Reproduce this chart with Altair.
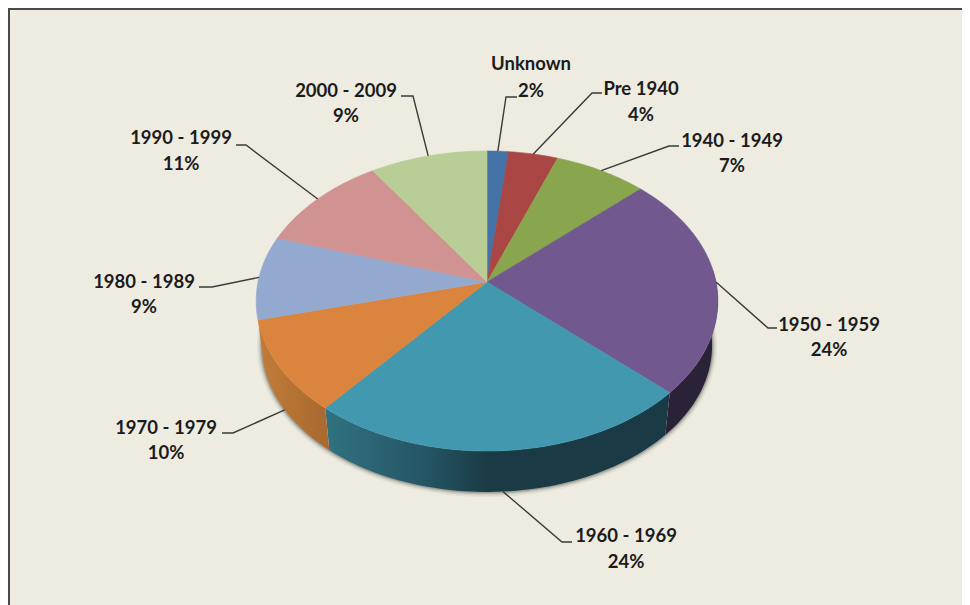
import math
import altair as alt

# ---- data ----
names = ["Unknown", "Pre 1940", "1940 - 1949", "1950 - 1959", "1960 - 1969",
         "1970 - 1979", "1980 - 1989", "1990 - 1999", "2000 - 2009"]
shares = [1.7, 3.9, 7.4, 24, 24, 10, 9, 10.7, 9.3]
top_colors = ["#4573a7", "#aa4643", "#89a54e", "#71588f", "#4198af",
              "#db843d", "#93a9cf", "#d19392", "#b9cd96"]

# ---- layout (page pixels) ----
PAGE = 8
W, H = 954, 597
CX, CY = 487, 282          # apex of the pie on the page
RX, RY, TILT = 229, 147.6, 0.1267
BOTTOM_CY, BOTTOM_SCALE = 327.2, 0.975
label_x = [531, 641, 732, 829, 626, 166, 144, 181, 346]
name_y = [64, 89, 141, 325, 536, 428, 282, 138, 91]
pct_y = [91, 115, 166, 350, 562, 453, 307, 164, 116]
elbow_a = [(506, 97), (592, 93), (669, 146), (768, 328), (562, 542), (233, 433), (212, 287), (246, 145), (413, 96)]
elbow_b = [(517, 97), (602, 93), (679, 146), (777, 328), (572, 542), (222, 433), (199, 287), (236, 145), (401, 96)]
use_bottom_rim = [False, False, False, False, True, True, False, False, False]
WALL_FROM, WALL_TO = 85.0, 275.0


def rim(t_deg, bottom=False):
    t = math.radians(t_deg)
    w = 1 + TILT * math.cos(t)
    s = BOTTOM_SCALE if bottom else 1.0
    cy = BOTTOM_CY if bottom else CY
    return [CX + s * RX * math.sin(t) / w, cy - s * RY * math.cos(t) / w]


def arc_pts(a, b, bottom=False):
    n = max(2, int(abs(b - a) / 1.5) + 1)
    return [rim(a + (b - a) * i / n, bottom) for i in range(n + 1)]


def feature(name, ring):
    ring = ring + [ring[0]]
    return {"type": "Feature", "properties": {"name": name},
            "geometry": {"type": "Polygon", "coordinates": [ring]}}


edges = [0.0]
for v in shares:
    edges.append(edges[-1] + v * 3.6)

top_feats = [feature(n, [[CX, CY]] + arc_pts(edges[i], edges[i + 1]))
             for i, n in enumerate(names)]


def wall(i):
    a = max(edges[i], WALL_FROM)
    b = min(edges[i + 1], WALL_TO)
    return feature(names[i], arc_pts(a, b) + arc_pts(a, b, True)[::-1])


proj = dict(type="identity", scale=1, translate=[-PAGE, -PAGE])


def grad(stops):
    return alt.Gradient(gradient="linear", x1=0, x2=1, y1=0, y2=0,
                        stops=[alt.GradientStop(offset=o, color=c) for o, c in stops])


scale = alt.Scale(domain=names, range=top_colors)
base_layers = []

# soft shadow under the drum
ell = feature("shadow", arc_pts(0, 359.9, True))
for sw, op in [(10, 0.05), (7, 0.08), (4.5, 0.12), (2.5, 0.18)]:
    base_layers.append(
        alt.Chart(alt.Data(values=[ell])).mark_geoshape(
            filled=False, stroke="#222222", strokeWidth=sw, strokeOpacity=op
        ).project(**proj).encode(detail=alt.Detail("properties.name:N"))
    )

# side walls
wall_styles = {
    3: [(0, "#2c2238"), (1, "#2c2238")],
    4: [(0, "#30727f"), (0.12, "#2c6677"), (0.3, "#245462"), (0.47, "#1a3b46"), (1, "#1a3a45")],
    5: [(0, "#c17c38"), (1, "#a8692f")],
}
for i, st in wall_styles.items():
    base_layers.append(
        alt.Chart(alt.Data(values=[wall(i)])).mark_geoshape(fill=grad(st))
        .project(**proj).encode(detail=alt.Detail("properties.name:N"))
    )

# top face
top = alt.Chart(alt.Data(values=top_feats)).mark_geoshape(strokeWidth=0.6).project(**proj).encode(
    color=alt.Color("properties.name:N", scale=scale, legend=None),
    stroke=alt.Stroke("properties.name:N", scale=scale, legend=None),
)

# leader lines, anchored at each slice's mid-angle on the rim
rows = []
for i, n in enumerate(names):
    mid = (edges[i] + edges[i + 1]) / 2
    a = rim(mid, use_bottom_rim[i])
    for k, p in enumerate([a, elbow_a[i], elbow_b[i]]):
        rows.append({"name": n, "k": k, "x": p[0] - PAGE, "y": p[1] - PAGE})
leaders = alt.Chart(alt.Data(values=rows)).mark_line(color="#3a3a3a", strokeWidth=1.4).encode(
    x=alt.X("x:Q", scale=None, axis=None),
    y=alt.Y("y:Q", scale=None, axis=None),
    detail="name:N",
    order="k:Q",
)

# labels
lab_rows = []
for i, n in enumerate(names):
    lab_rows.append({"t": n, "x": label_x[i] - PAGE, "y": name_y[i] - PAGE})
    lab_rows.append({"t": f"{round(shares[i])}%", "x": label_x[i] - PAGE, "y": pct_y[i] - PAGE})
labels = alt.Chart(alt.Data(values=lab_rows)).mark_text(
    font="Lato", fontWeight="bold", fontSize=18.5, color="#1b1b1b",
    align="center", baseline="middle",
).encode(
    x=alt.X("x:Q", scale=None, axis=None),
    y=alt.Y("y:Q", scale=None, axis=None),
    text="t:N",
)

# frame (left and top edge)
frame_l = alt.Chart(alt.Data(values=[{"a": 0}])).mark_rule(color="#4a4a48", strokeWidth=2).encode(
    x=alt.value(1), y=alt.value(0), y2=alt.value(H))
frame_t = alt.Chart(alt.Data(values=[{"a": 0}])).mark_rule(color="#4a4a48", strokeWidth=2).encode(
    y=alt.value(1), x=alt.value(0), x2=alt.value(W))

chart = alt.layer(*base_layers, top, leaders, labels, frame_l, frame_t).properties(
    width=W, height=H, background="#eeece1", padding=0, autosize=alt.AutoSizeParams(type="none"),
).configure_view(stroke=None)

chart.save("out.html", embed_options={"renderer": "svg", "actions": False})
